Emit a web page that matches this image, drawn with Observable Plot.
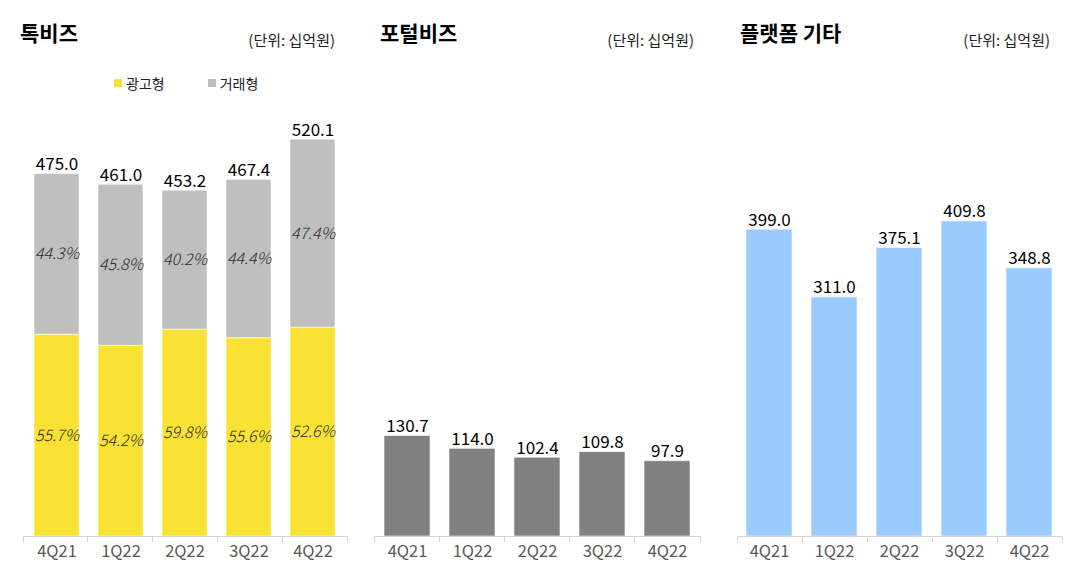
<!DOCTYPE html>
<html>
<head>
<meta charset="utf-8">
<script src="https://cdn.jsdelivr.net/npm/d3@7"></script>
<script src="https://cdn.jsdelivr.net/npm/@observablehq/plot@0.6"></script>
<style>
  body { margin: 0; background: #fff; font-family: "Noto Sans CJK KR", "Noto Sans", sans-serif; }
  #root { position: relative; width: 1072px; height: 574px; overflow: hidden; background: #fff; }
  .title { position: absolute; font-size: 21px; font-weight: 700; line-height: 1; color: #000; white-space: nowrap; }
  .unit { position: absolute; font-size: 15px; line-height: 1; color: #222; white-space: nowrap; }
  .panel { position: absolute; top: 100px; }
  .legend { position: absolute; top: 76px; font-size: 14px; line-height: 1; color: #222; display: flex; align-items: center; white-space: nowrap; }
  .legend .sw { display: inline-block; width: 8px; height: 8px; margin-right: 4px; }
  .legend .item { display: flex; align-items: center; margin-right: 43px; }
</style>
</head>
<body>
<div id="root"></div>
<script>
// ---- data ----
const quarters = ["4Q21", "1Q22", "2Q22", "3Q22", "4Q22"];
const talkTotal = [475.0, 461.0, 453.2, 467.4, 520.1];
const talkAdShare = [55.7, 54.2, 59.8, 55.6, 52.6];
const talkTxShare = [44.3, 45.8, 40.2, 44.4, 47.4];
const portalTotal = [130.7, 114.0, 102.4, 109.8, 97.9];
const otherTotal = [399.0, 311.0, 375.1, 409.8, 348.8];
const seriesNames = ["광고형", "거래형"];
const panelTitles = ["톡비즈", "포털비즈", "플랫폼 기타"];
const unitLabel = "(단위: 십억원)";

// ---- style ----
const YELLOW = "#F9E231", GRAY = "#BFBFBF", DARK = "#808080", BLUE = "#9ACBFE";
const FONT = "'Noto Sans CJK KR', 'Noto Sans', sans-serif";
const root = document.getElementById("root");

function boundaryTicks(n, len, color) {
  return (index, scales, values, dims) => {
    const {width, height, marginLeft, marginRight, marginBottom} = dims;
    const y0 = height - marginBottom;
    const step = (width - marginLeft - marginRight) / n;
    const g = d3.create("svg:g").attr("stroke", color).attr("shape-rendering", "crispEdges");
    for (let k = 0; k <= n; k++) {
      const xx = marginLeft + k * step;
      g.append("line").attr("x1", xx).attr("x2", xx).attr("y1", y0).attr("y2", y0 + len);
    }
    return g.node();
  };
}

function basePlot(opts, marks) {
  return Plot.plot({
    width: 360,
    height: 470,
    marginTop: 0,
    marginBottom: 34,
    marginLeft: opts.ml,
    marginRight: opts.mr,
    style: {fontFamily: FONT, fontSize: "16.5px", color: "#595959", background: "transparent"},
    x: {domain: quarters, paddingInner: 0.292, paddingOuter: 0.146, tickSize: 0, tickPadding: 9, label: null},
    y: {domain: [0, opts.ymax], axis: null},
    color: opts.color,
    marks: [
      ...marks,
      Plot.ruleY([0], {stroke: "#d4d4d4"}),
      boundaryTicks(quarters.length, 6, "#d4d4d4")
    ]
  });
}

function place(el, left) {
  el.classList.add("panel");
  el.style.left = left + "px";
  root.appendChild(el);
}

function addHeader(title, titleX, unitRight) {
  const t = document.createElement("div");
  t.className = "title"; t.textContent = title;
  t.style.left = titleX + "px"; t.style.top = "22px";
  root.appendChild(t);
  const u = document.createElement("div");
  u.className = "unit"; u.textContent = unitLabel;
  u.style.right = (1072 - unitRight) + "px"; u.style.top = "32px";
  root.appendChild(u);
}

const valueText = {lineAnchor: "bottom", dy: -4, fill: "#000", fontSize: 17, fontWeight: 400};

// ---- panel 1: 톡비즈 (stacked) ----
const talkRows = [];
quarters.forEach((q, i) => {
  talkRows.push({q, type: seriesNames[0], value: talkTotal[i] * talkAdShare[i] / 100, share: talkAdShare[i]});
  talkRows.push({q, type: seriesNames[1], value: talkTotal[i] * talkTxShare[i] / 100, share: talkTxShare[i]});
});
const talkTotals = quarters.map((q, i) => ({q, v: talkTotal[i]}));

const p1 = basePlot({ml: 23, mr: 13, ymax: 571.4, color: {domain: seriesNames, range: [YELLOW, GRAY]}}, [
  Plot.barY(talkRows, {x: "q", y: "value", fill: "type", order: seriesNames, stroke: "#fff", strokeOpacity: 0.6, strokeWidth: 1}),
  Plot.text(talkRows, Plot.stackY({x: "q", y: "value", z: "type", order: seriesNames,
    text: d => d.share.toFixed(1) + "%", fill: "#2e2e2e", fontSize: 16, fontWeight: 300, fontStyle: "italic"})),
  Plot.text(talkTotals, {x: "q", y: "v", text: d => d.v.toFixed(1), ...valueText})
]);
place(p1, 0);
addHeader(panelTitles[0], 20, 335);

// legend
const lg = document.createElement("div");
lg.className = "legend";
lg.style.left = "114px";
seriesNames.forEach((name, i) => {
  const it = document.createElement("span");
  it.className = "item";
  const sw = document.createElement("span");
  sw.className = "sw"; sw.style.background = [YELLOW, GRAY][i];
  it.appendChild(sw);
  it.appendChild(document.createTextNode(name));
  lg.appendChild(it);
});
root.appendChild(lg);

// ---- panel 2: 포털비즈 ----
const portalRows = quarters.map((q, i) => ({q, v: portalTotal[i]}));
const p2 = basePlot({ml: 22, mr: 12, ymax: 567}, [
  Plot.barY(portalRows, {x: "q", y: "v", fill: DARK, stroke: "#fff", strokeOpacity: 0.6, strokeWidth: 1}),
  Plot.text(portalRows, {x: "q", y: "v", text: d => d.v.toFixed(1), ...valueText})
]);
place(p2, 352);
addHeader(panelTitles[1], 380, 694);

// ---- panel 3: 플랫폼 기타 ----
const otherRows = quarters.map((q, i) => ({q, v: otherTotal[i]}));
const p3 = basePlot({ml: 25, mr: 10, ymax: 567}, [
  Plot.barY(otherRows, {x: "q", y: "v", fill: BLUE, stroke: "#fff", strokeOpacity: 0.6, strokeWidth: 1}),
  Plot.text(otherRows, {x: "q", y: "v", text: d => d.v.toFixed(1), ...valueText})
]);
place(p3, 712);
addHeader(panelTitles[2], 740, 1050);
</script>
</body>
</html>
